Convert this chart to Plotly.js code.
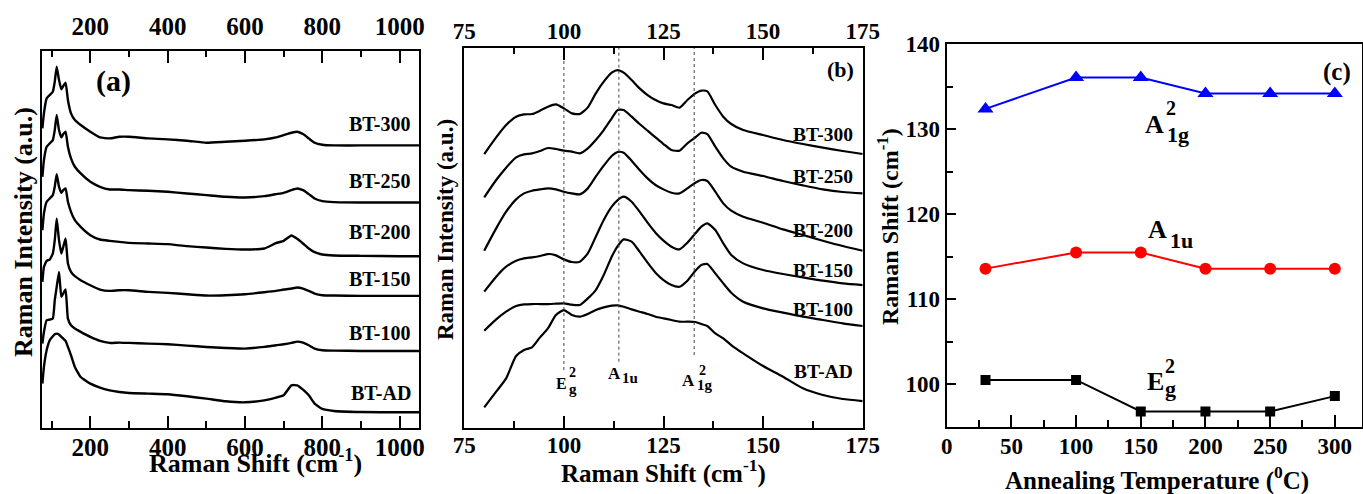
<!DOCTYPE html>
<html><head><meta charset="utf-8">
<script src="https://cdn.plot.ly/plotly-3.0.1.min.js"></script>
<style>html,body{margin:0;padding:0;background:#fff;} #chart{width:1363px;height:494px;}</style>
</head><body><div id="chart"></div>
<script>
// ---------- Panel (a): full Raman spectra ----------
const shiftA = [76, 80, 87, 95, 103, 108, 113, 119, 125, 130, 136, 142, 150, 160, 175, 200, 225, 250, 275, 300, 350, 400, 450, 500, 550, 600, 650, 680, 700, 720, 735, 750, 765, 780, 800, 830, 900, 1000, 1050];
const specA_BT300 = [898, 943, 988, 998, 1008, 1038, 1083, 1043, 1015, 1025, 1035, 983, 943, 923, 908, 888, 871, 868, 873, 873, 868, 865, 861, 855, 858, 861, 865, 871, 878, 885, 888, 881, 868, 855, 849, 847, 847, 847, 847];
const specA_BT250 = [753, 803, 843, 853, 863, 893, 938, 893, 871, 881, 888, 843, 808, 783, 763, 738, 723, 715, 715, 713, 711, 708, 703, 698, 693, 691, 695, 701, 705, 713, 718, 713, 701, 688, 680, 677, 676, 676, 676];
const specA_BT200 = [593, 643, 678, 688, 698, 723, 761, 723, 705, 713, 718, 678, 648, 623, 603, 578, 565, 561, 558, 555, 553, 551, 545, 541, 537, 535, 538, 554, 561, 577, 567, 553, 538, 527, 520, 517, 516, 515, 515];
const specA_BT150 = [438, 483, 501, 505, 523, 563, 628, 563, 523, 543, 568, 493, 468, 455, 443, 428, 415, 411, 413, 413, 408, 405, 401, 397, 398, 401, 407, 411, 415, 418, 421, 418, 411, 403, 398, 397, 396, 396, 396];
const specA_BT100 = [253, 288, 323, 325, 328, 383, 423, 468, 393, 403, 415, 328, 308, 298, 288, 273, 261, 255, 256, 255, 253, 251, 247, 243, 240, 238, 243, 248, 251, 255, 259, 256, 248, 238, 233, 232, 231, 231, 231];
const specA_BTAD  = [133, 183, 233, 263, 275, 281, 283, 280, 273, 268, 261, 243, 218, 183, 153, 133, 121, 113, 108, 105, 103, 101, 95, 88, 80, 77, 83, 91, 98, 128, 128, 115, 98, 73, 57, 51, 48, 47, 47];

// ---------- Panel (b): low-wavenumber zoom ----------
const shiftB = [80, 83, 85.5, 88, 90, 92, 94, 96, 98, 100, 102, 104, 106, 108, 110, 112, 113.5, 115, 117, 119, 121, 123, 125, 127, 129, 131, 133, 134.5, 136, 138, 140, 142, 145, 150, 155, 160, 165, 170, 175];
const specB_BT300 = [821, 871, 908, 933, 940, 941, 951, 963, 970, 958, 943, 941, 961, 1003, 1038, 1065, 1073, 1065, 1043, 1018, 998, 983, 973, 968, 960, 983, 1003, 1011, 1009, 968, 933, 911, 893, 878, 863, 851, 840, 830, 821];
const specB_BT250 = [691, 743, 780, 811, 820, 823, 830, 839, 836, 831, 828, 823, 838, 863, 893, 928, 953, 953, 933, 911, 891, 871, 851, 833, 831, 853, 871, 885, 881, 843, 808, 783, 768, 755, 740, 727, 715, 707, 703];
const specB_BT200 = [531, 598, 648, 685, 703, 711, 715, 718, 715, 708, 703, 700, 718, 753, 786, 815, 827, 825, 801, 773, 748, 728, 715, 705, 703, 718, 735, 743, 740, 708, 673, 651, 633, 615, 595, 578, 561, 545, 531];
const specB_BT150 = [408, 453, 483, 501, 508, 511, 515, 521, 517, 505, 497, 498, 523, 573, 623, 663, 683, 693, 678, 648, 615, 585, 561, 543, 535, 555, 583, 603, 613, 593, 553, 518, 493, 473, 461, 451, 441, 433, 428];
const specB_BT100 = [291, 325, 348, 365, 370, 371, 371, 371, 372, 373, 369, 368, 388, 413, 458, 513, 545, 565, 558, 528, 495, 465, 443, 428, 423, 441, 471, 488, 491, 463, 433, 405, 378, 358, 345, 333, 323, 313, 305];
const specB_BTAD  = [61, 108, 148, 215, 233, 241, 271, 298, 338, 353, 338, 333, 341, 353, 361, 366, 367, 363, 355, 348, 341, 333, 328, 323, 318, 318, 317, 311, 305, 283, 268, 248, 223, 185, 153, 118, 98, 86, 80];
const modePositions = [100, 113.8, 132.7];
const modeLineBottoms = [173, 198, 218];
const modeLineTop = 1140;

// ---------- Panel (c): peak position vs annealing temperature ----------
const annealTemp = [30, 100, 150, 200, 250, 300];
const peakA1g = [132.4, 136.1, 136.1, 134.2, 134.2, 134.2];
const peakA1u = [113.6, 115.5, 115.5, 113.6, 113.6, 113.6];
const peakEg  = [100.5, 100.5, 96.8, 96.8, 96.8, 98.6];

const sampleNames = ['BT-300', 'BT-250', 'BT-200', 'BT-150', 'BT-100', 'BT-AD'];
const specsA = [specA_BT300, specA_BT250, specA_BT200, specA_BT150, specA_BT100, specA_BTAD];
const specsB = [specB_BT300, specB_BT250, specB_BT200, specB_BT150, specB_BT100, specB_BTAD];

const W = 1363, H = 494;
const px = v => v / W;
const py = v => 1 - v / H;
const FONT = 'Liberation Serif';

const traces = [];
specsA.forEach((s, i) => traces.push({x: shiftA, y: s, xaxis: 'x', yaxis: 'y', mode: 'lines', name: sampleNames[i],
  line: {color: '#000', width: 2.4, shape: 'spline', smoothing: 0.4}, showlegend: false, hoverinfo: 'skip'}));
specsB.forEach((s, i) => traces.push({x: shiftB, y: s, xaxis: 'x2', yaxis: 'y2', mode: 'lines', name: sampleNames[i],
  line: {color: '#000', width: 2.2, shape: 'spline', smoothing: 0.6}, showlegend: false, hoverinfo: 'skip'}));
modePositions.forEach((m, i) => traces.push({x: [m, m], y: [modeLineBottoms[i], modeLineTop], xaxis: 'x2', yaxis: 'y2',
  mode: 'lines', line: {color: '#444', width: 1, dash: 'dot'}, showlegend: false, hoverinfo: 'skip'}));
traces.push({x: [null], y: [null], xaxis: 'x4', yaxis: 'y', mode: 'lines', showlegend: false, hoverinfo: 'skip'});
traces.push({x: [null], y: [null], xaxis: 'x5', yaxis: 'y2', mode: 'lines', showlegend: false, hoverinfo: 'skip'});
traces.push({x: annealTemp, y: peakA1g, xaxis: 'x3', yaxis: 'y3', mode: 'lines+markers', name: 'A1g2',
  line: {color: '#0000ff', width: 2}, marker: {symbol: 'triangle-up', size: 14, color: '#0000ff'}, showlegend: false});
traces.push({x: annealTemp, y: peakA1u, xaxis: 'x3', yaxis: 'y3', mode: 'lines+markers', name: 'A1u',
  line: {color: '#ff0000', width: 2}, marker: {symbol: 'circle', size: 12, color: '#ff0000'}, showlegend: false});
traces.push({x: annealTemp, y: peakEg, xaxis: 'x3', yaxis: 'y3', mode: 'lines+markers', name: 'Eg2',
  line: {color: '#000', width: 2}, marker: {symbol: 'square', size: 10, color: '#000'}, showlegend: false});

const tickBase = {ticks: 'inside', tickwidth: 2, tickcolor: '#000', showline: true, linewidth: 2, linecolor: '#000',
  showgrid: false, zeroline: false};

const layout = {
  width: W, height: H, margin: {l: 0, r: 0, t: 0, b: 0, pad: 0},
  paper_bgcolor: '#fff', plot_bgcolor: '#fff',
  font: {family: FONT, color: '#000', weight: 'bold'},
  xaxis: Object.assign({}, tickBase, {domain: [px(42), px(419)], range: [75, 1050], anchor: 'y', tick0: 0, dtick: 200,
    ticklen: 12, ticklabelstandoff: -4, minor: {tick0: 0, dtick: 100, ticks: 'inside', ticklen: 7, tickwidth: 2, tickcolor: '#000'},
    tickfont: {size: 25, family: FONT, weight: 'bold'}}),
  xaxis4: Object.assign({}, tickBase, {overlaying: 'x', side: 'top', anchor: 'y', range: [75, 1050], tick0: 0, dtick: 200,
    ticklen: 12, ticklabelstandoff: 4, minor: {tick0: 0, dtick: 100, ticks: 'inside', ticklen: 6, tickwidth: 2, tickcolor: '#000'},
    tickfont: {size: 25, family: FONT, weight: 'bold'}}),
  yaxis: Object.assign({}, tickBase, {domain: [py(428), py(51)], range: [0, 1130], anchor: 'x', mirror: true, ticks: '',
    showticklabels: false}),
  xaxis2: Object.assign({}, tickBase, {domain: [px(464.3), px(862.7)], range: [75, 175], anchor: 'y2', tick0: 0, dtick: 25,
    ticklen: 12, ticklabelstandoff: -4, minor: {tick0: 0, dtick: 12.5, ticks: 'inside', ticklen: 7, tickwidth: 2, tickcolor: '#000'},
    tickfont: {size: 23, family: FONT, weight: 'bold'}}),
  xaxis5: Object.assign({}, tickBase, {overlaying: 'x2', side: 'top', anchor: 'y2', range: [75, 175], tick0: 0, dtick: 25,
    ticklen: 12, ticklabelstandoff: -2, minor: {tick0: 0, dtick: 12.5, ticks: 'inside', ticklen: 6, tickwidth: 2, tickcolor: '#000'},
    tickfont: {size: 23, family: FONT, weight: 'bold'}}),
  yaxis2: Object.assign({}, tickBase, {domain: [py(427.7), py(47.7)], range: [0, 1140], anchor: 'x2', mirror: true, ticks: '',
    showticklabels: false}),
  xaxis3: Object.assign({}, tickBase, {domain: [px(946.7), px(1362)], range: [0, 321], anchor: 'y3', tick0: 0, dtick: 50,
    ticklen: 12, ticklabelstandoff: -2, mirror: true, minor: {tick0: 0, dtick: 25, ticks: 'inside', ticklen: 7, tickwidth: 2, tickcolor: '#000'},
    tickfont: {size: 23, family: FONT, weight: 'bold'}}),
  yaxis3: Object.assign({}, tickBase, {domain: [py(426.7), py(44.3)], range: [95, 140], anchor: 'x3', tick0: 0, dtick: 10,
    ticklen: 9, mirror: true, minor: {tick0: 0, dtick: 5, ticks: 'inside', ticklen: 6, tickwidth: 2, tickcolor: '#000'},
    tickfont: {size: 23, family: FONT, weight: 'bold'}}),
  annotations: []
};

function ann(text, x, y, size, extra) {
  layout.annotations.push(Object.assign({text: text, x: px(x), y: py(y), xref: 'paper', yref: 'paper',
    xanchor: 'center', yanchor: 'middle', showarrow: false,
    font: {family: FONT, size: size, color: '#000', weight: 'bold'}}, extra || {}));
}

// panel labels
ann('(a)', 113, 81, 30);
ann('(b)', 840.7, 69, 22);
ann('(c)', 1337, 71.7, 25);

// axis titles
ann('Raman Shift (cm<sup>-1</sup>)', 255, 461, 26);
ann('Raman Intensity (a.u.)', 23, 232, 26, {textangle: -90});
ann('Raman Shift (cm<sup>-1</sup>)', 663, 471, 25);
ann('Raman Intensity (a.u.)', 445, 230, 23, {textangle: -90});
ann('Annealing Temperature (<sup>0</sup>C)', 1157, 478, 25);
ann('Raman Shift (cm<sup>-1</sup>)', 888, 227, 24, {textangle: -90});

// sample labels
const labelYA = [124, 181, 231.7, 279.3, 332.7, 392.7];
const labelYB = [134, 176, 230, 270, 309.3, 371];
sampleNames.forEach((n, i) => {
  ann(n, 412.7, labelYA[i], 20, {xanchor: 'right'});
  ann(n, 855, labelYB[i], 19.5, {xanchor: 'right'});
});

// mode labels in panel (b)
ann('E', 561.5, 383.5, 16);
ann('2', 572.5, 372.5, 14);
ann('g', 573, 389, 15);
ann('A', 614, 373, 17);
ann('1u', 629.5, 377.5, 15);
ann('A', 688.5, 380, 17);
ann('2', 702.5, 370, 14);
ann('1g', 704.5, 384.5, 15);

// mode labels in panel (c)
ann('A', 1154.5, 124.4, 26);
ann('2', 1171, 108.4, 20);
ann('1g', 1178, 134.7, 22);
ann('A', 1157.5, 229.4, 26);
ann('1u', 1181, 240.7, 22);
ann('E', 1155, 381.4, 26);
ann('2', 1170, 366, 20);
ann('g', 1170, 388, 22);

Plotly.newPlot('chart', traces, layout, {displayModeBar: false, staticPlot: true});
</script>
</body></html>
